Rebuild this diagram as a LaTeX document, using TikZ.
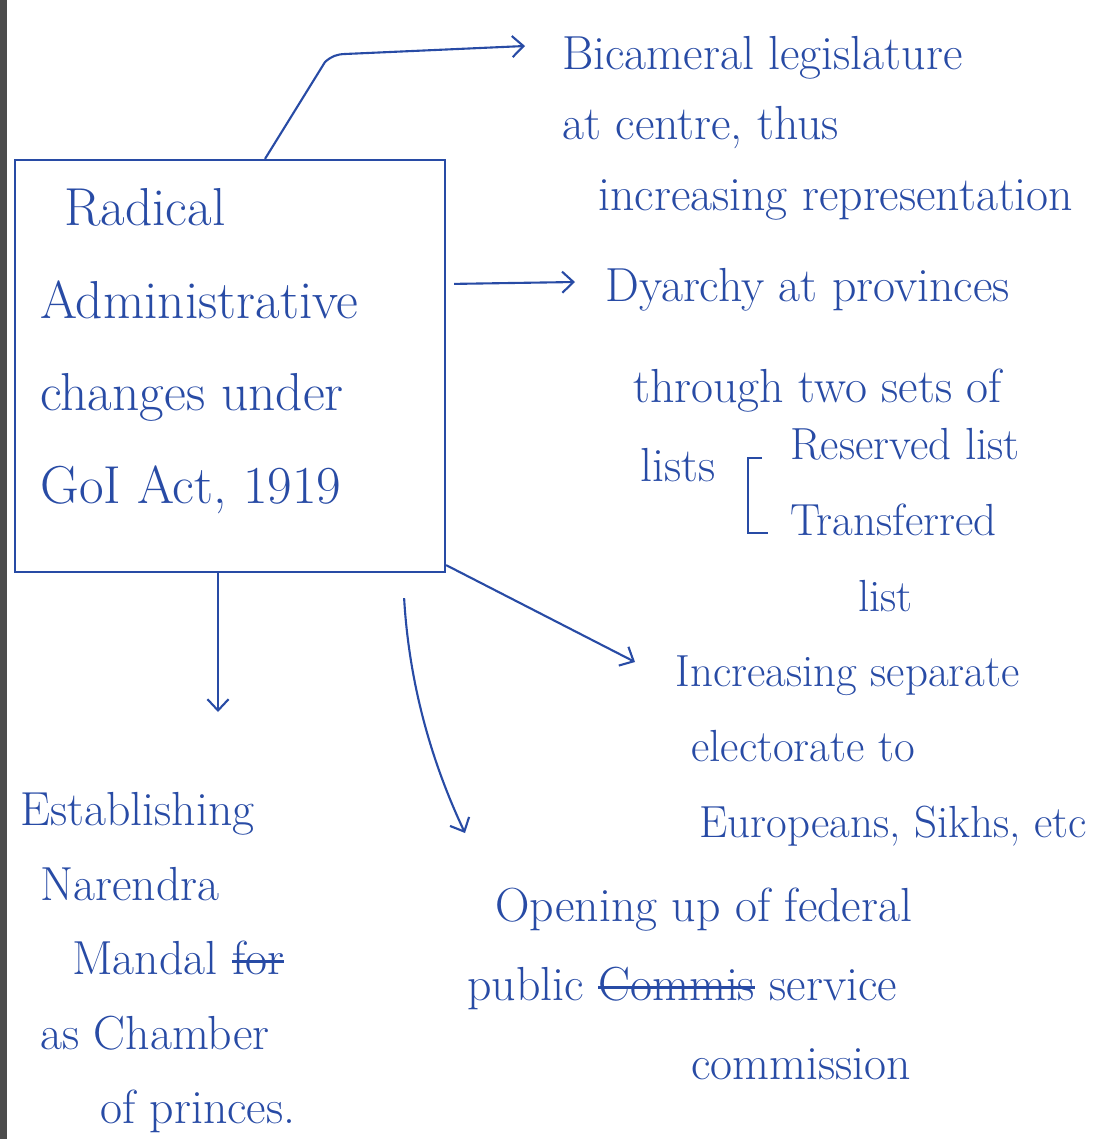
\documentclass[tikz,border=0pt]{standalone}
\usetikzlibrary{arrows.meta,calc}
\definecolor{ink}{RGB}{40,75,165}
\newcommand{\strk}[1]{\setbox0\hbox{#1}\rlap{\rule[0.25em]{\wd0}{1.6pt}}\box0\relax}
\tikzstyle{note}=[text=ink,anchor=north west,inner sep=0pt,align=left,font=\fontsize{34}{50}\selectfont]
\tikzstyle{arr}=[draw=ink,line width=1.5pt,-{Straight Barb[length=8pt,width=15pt]}]

\begin{document}
\begin{tikzpicture}[x=0.025cm,y=-0.025cm]
            \useasboundingbox (0,0) rectangle (1103,1139);
            \fill[black!70] (0,0) rectangle (7,1139);
            % main box
            \node (box) at (230,366) [draw=ink,line width=1.5pt,minimum width=10.75cm,minimum height=10.3cm] {};
            \node (title) at (40,188) [note,font=\fontsize{38}{66}\selectfont] {\hspace*{0.6cm}Radical\\Administrative\\changes under\\GoI Act, 1919};
            % right side
            \node (bic) at (562,36) [note,font=\fontsize{34}{50}\selectfont] {Bicameral legislature\\at centre, thus\\\hspace*{0.9cm}increasing representation};
            \node (dy) at (605,268) [note,font=\fontsize{34}{72}\selectfont] {Dyarchy at provinces\\\hspace*{0.7cm}through two sets of};
            \node (lists) at (640,448) [note] {lists};
            \node (kinds) at (790,428) [note,font=\fontsize{32}{54}\selectfont] {Reserved list\\Transferred\\\hspace*{1.7cm}list};
            \draw[ink,line width=1.5pt] ($(kinds.north west)+(-28,30)$) -- ++(-14,0) -- ++(0,75) -- ++(20,0);
            \node (inc) at (675,655) [note,font=\fontsize{32}{54}\selectfont] {Increasing separate\\\hspace*{0.4cm}electorate to\\\hspace*{0.6cm}Europeans, Sikhs, etc};
            % bottom
            \node (open) at (495,888) [note,font=\fontsize{34}{56}\selectfont] {Opening up of federal\\\hspace*{-0.7cm}public \strk{Commis} service\\\hspace*{4.9cm}commission};
            \node (est) at (20,792) [note,font=\fontsize{34}{53}\selectfont] {Establishing\\\hspace*{0.5cm}Narendra\\\hspace*{1.3cm}Mandal \strk{for}\\\hspace*{0.5cm}as Chamber\\\hspace*{2cm}of princes.};
            % connectors
            \draw[arr] ($(box.north)+(35,0)$) -- (325,62) to[bend left=20] (345,54) -- ($(bic.north west)+(-37,10)$);
            \draw[arr] ($(box.north east)+(8,125)$) -- ($(dy.north west)+(-30,14)$);
            \draw[arr] ($(box.south east)+(0,-8)$) -- ($(inc.north west)+(-40,7)$);
            \draw[arr] ($(box.south)+(-12,0)$) -- ($(est.north west)+(198,-80)$);
            \draw[arr] ($(box.south east)+(-42,25)$) .. controls (410,700) and (440,780) .. ($(open.north west)+(-30,-55)$);
        \end{tikzpicture}
\end{document}
